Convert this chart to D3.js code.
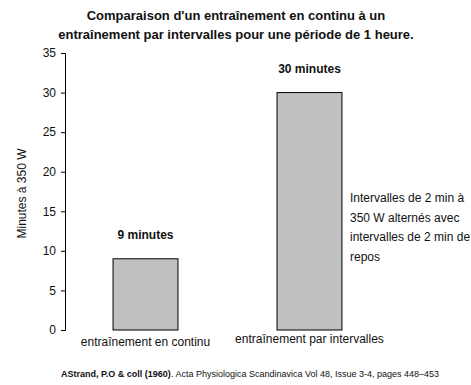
<!DOCTYPE html>
<html lang="fr">
<head>
    <meta charset="UTF-8">
    <title>Entraînement en continu vs par intervalles</title>
    <script src="https://cdnjs.cloudflare.com/ajax/libs/d3/7.8.5/d3.min.js"></script>
    <style>
        body { margin: 0; background: #fff; font-family: "Liberation Sans", Arial, sans-serif; }
    </style>
</head>
<body>
    <div id="chart"></div>

    <script>
        const categories = ["entraînement en continu", "entraînement par intervalles"];
        const minutes = [9, 30];
        const valueLabels = ["9 minutes", "30 minutes"];
        const yTicks = [0, 5, 10, 15, 20, 25, 30, 35];
        const noteLines = ["Intervalles de 2 min à", "350 W alternés avec", "intervalles de 2 min de", "repos"];

        const width = 471;
        const height = 385;

        const svg = d3.select("#chart")
            .append("svg")
            .attr("width", width)
            .attr("height", height)
            .style("font-family", "'Liberation Sans', Arial, sans-serif");

        // titre
        const title = svg.append("text")
            .attr("text-anchor", "middle")
            .attr("font-weight", "bold")
            .attr("font-size", "13px")
            .attr("fill", "#111");
        title.append("tspan").attr("x", 236).attr("y", 20).text("Comparaison d'un entraînement en continu à un");
        title.append("tspan").attr("x", 236).attr("y", 39).text("entraînement par intervalles pour une période de 1 heure.");

        const y = d3.scaleLinear()
            .domain([0, 35])
            .range([330, 53]);

        const x = d3.scaleBand()
            .domain(categories)
            .range([65, 390])
            .paddingInner(0.604)
            .paddingOuter(0.293);

        const yAxis = svg.append("g")
            .attr("transform", "translate(65,0)")
            .call(d3.axisLeft(y).tickValues(yTicks).tickSize(4).tickPadding(5));
        yAxis.selectAll("path, line").attr("stroke", "#000");
        yAxis.selectAll("text")
            .attr("font-size", "12px")
            .attr("fill", "#111")
            .style("font-family", "'Liberation Sans', Arial, sans-serif");

        svg.append("text")
            .attr("transform", `translate(26,${(y(0) + y(35)) / 2 + 2}) rotate(-90)`)
            .attr("text-anchor", "middle")
            .attr("font-size", "12px")
            .attr("fill", "#111")
            .text("Minutes à 350 W");

        // barres
        svg.append("g")
            .selectAll("rect")
            .data(minutes)
            .join("rect")
            .attr("x", (d, i) => x(categories[i]))
            .attr("y", d => y(d))
            .attr("width", x.bandwidth())
            .attr("height", d => y(0) - y(d))
            .attr("fill", "#c0c0c0")
            .attr("stroke", "#000")
            .attr("stroke-width", 1);

        svg.append("g")
            .selectAll("text")
            .data(minutes)
            .join("text")
            .attr("x", (d, i) => x(categories[i]) + x.bandwidth() / 2)
            .attr("y", d => y(d) - 20)
            .attr("text-anchor", "middle")
            .attr("font-weight", "bold")
            .attr("font-size", "12px")
            .attr("fill", "#111")
            .text((d, i) => valueLabels[i]);

        svg.append("g")
            .selectAll("text")
            .data(categories)
            .join("text")
            .attr("x", d => x(d) + x.bandwidth() / 2)
            .attr("y", (d, i) => i === 0 ? 346 : 343)
            .attr("text-anchor", "middle")
            .attr("font-size", "12px")
            .attr("fill", "#111")
            .text(d => d);

        // note à droite
        svg.append("g")
            .selectAll("text")
            .data(noteLines)
            .join("text")
            .attr("x", 350)
            .attr("y", (d, i) => 202 + i * 19.5)
            .attr("font-size", "12px")
            .attr("fill", "#111")
            .text(d => d);

        // source
        const src = svg.append("text")
            .attr("x", 61)
            .attr("y", 377)
            .attr("font-size", "9px")
            .attr("fill", "#111");
        src.append("tspan").attr("font-weight", "bold").text("AStrand, P.O & coll (1960)");
        src.append("tspan").text(". Acta Physiologica Scandinavica Vol 48, Issue 3-4, pages 448–453");
    </script>
</body>
</html>
